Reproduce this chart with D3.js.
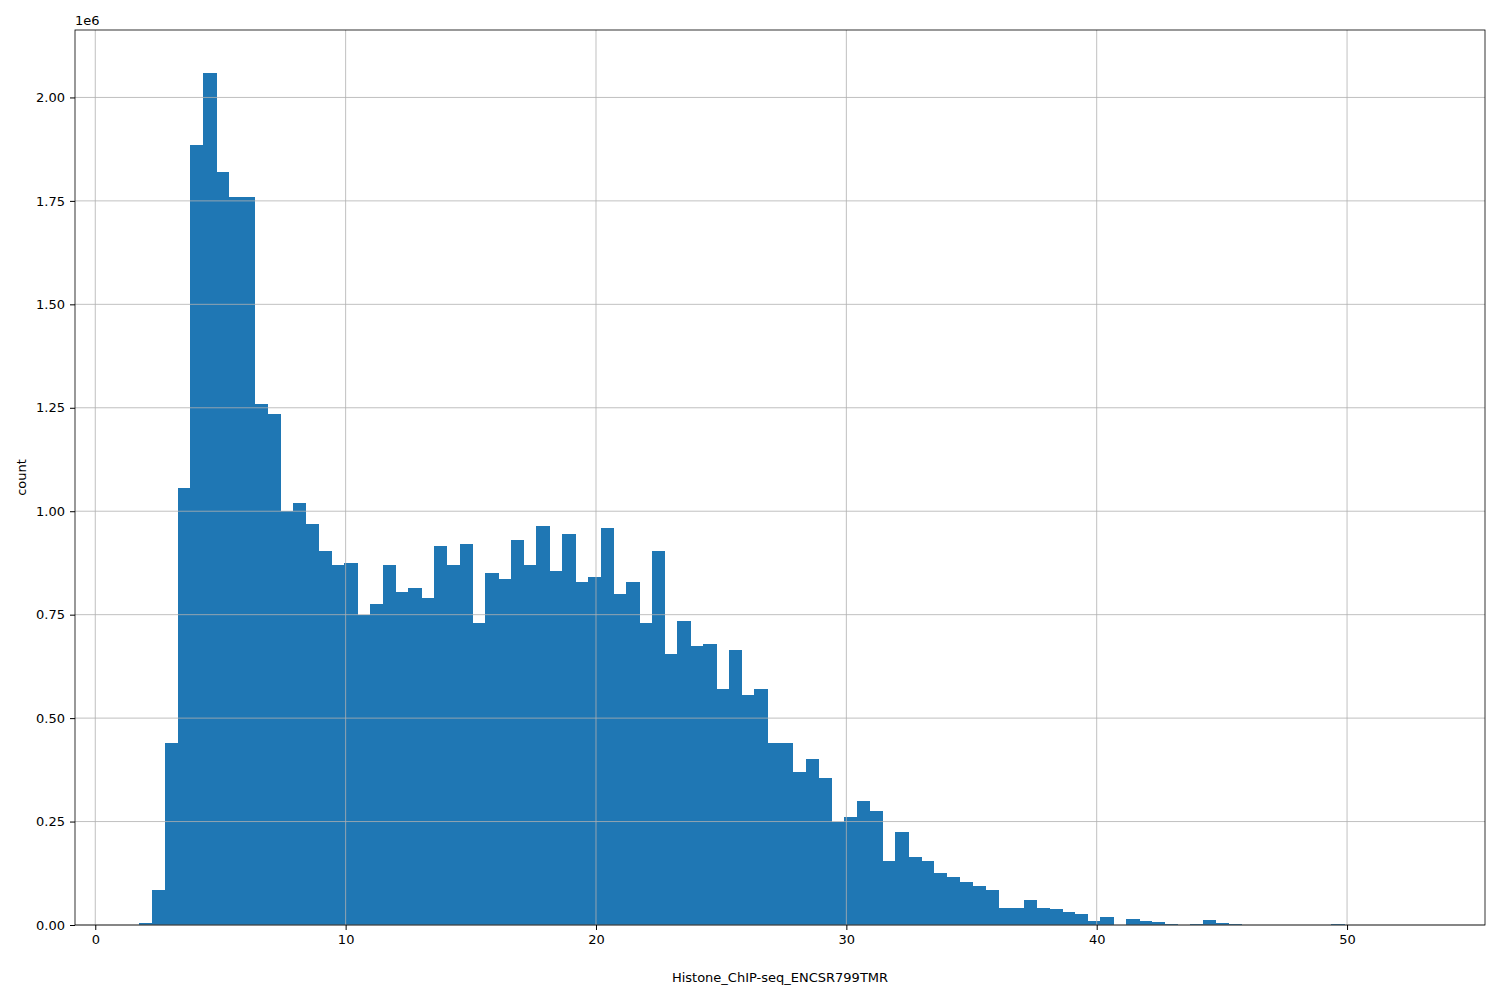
<!DOCTYPE html>
<html><head><meta charset="utf-8">
<script src="https://cdn.jsdelivr.net/npm/d3@7"></script>
<style>body{margin:0;background:#fff}text{font-family:"DejaVu Sans",sans-serif}</style>
</head><body>
<svg id="chart" width="1500" height="1000"></svg>
<script>
// histogram: 100 bins starting at binStart, width binWidth
const binStart = 1.75;
const binWidth = 0.512;
const counts = [
  0.005,0.085,0.44,1.055,1.885,2.06,1.82,1.76,1.76,1.26,
  1.235,1.0,1.02,0.97,0.905,0.87,0.875,0.75,0.775,0.87,
  0.805,0.815,0.79,0.915,0.87,0.92,0.73,0.85,0.835,0.93,
  0.87,0.965,0.855,0.945,0.83,0.84,0.96,0.80,0.83,0.73,
  0.905,0.655,0.735,0.675,0.68,0.57,0.665,0.555,0.57,0.44,
  0.44,0.37,0.40,0.355,0.25,0.26,0.30,0.275,0.155,0.225,
  0.165,0.155,0.125,0.115,0.105,0.095,0.085,0.04,0.04,0.06,
  0.042,0.038,0.032,0.027,0.01,0.02,0.0,0.015,0.01,0.007,
  0.003,0.0,0.002,0.013,0.005,0.003,0.001,0.001,0.001,0.001,
  0.001,0.0005,0.001,0.003,0.001,0.0005,0.0005,0.0005,0.0005,0.0005
].map(v => v * 1e6);
const xTicks = [0, 10, 20, 30, 40, 50];
const yTicks = [0, 0.25, 0.5, 0.75, 1.0, 1.25, 1.5, 1.75, 2.0].map(v => v * 1e6);

const svg = d3.select("#chart");
const m = {left: 75, right: 15, top: 30, bottom: 75};
const W = 1500 - m.left - m.right, H = 1000 - m.top - m.bottom;
const binEnd = binStart + binWidth * counts.length;
const pad = (binEnd - binStart) * 0.05;
const x = d3.scaleLinear().domain([binStart - pad, binEnd + pad]).range([0, W]);
const yMax = d3.max(counts) * 1.05;
const y = d3.scaleLinear().domain([0, yMax]).range([H, 0]);
const g = svg.append("g").attr("transform", `translate(${m.left},${m.top})`);

const bars = counts.map((c, i) => ({x0: binStart + i * binWidth, x1: binStart + (i + 1) * binWidth, c}));
g.selectAll("rect.bar").data(bars).join("rect")
  .attr("x", d => x(d.x0)).attr("width", d => x(d.x1) - x(d.x0) + 0.6)
  .attr("y", d => y(d.c)).attr("height", d => H - y(d.c))
  .attr("fill", "#1f77b4").attr("shape-rendering", "crispEdges");

// grid over bars (pandas hist draws grid on top)
g.append("g").selectAll("line").data(xTicks).join("line")
  .attr("x1", d => x(d)).attr("x2", d => x(d)).attr("y1", 0).attr("y2", H)
  .attr("stroke", "#b0b0b0").attr("stroke-width", 0.8);
g.append("g").selectAll("line").data(yTicks).join("line")
  .attr("y1", d => y(d)).attr("y2", d => y(d)).attr("x1", 0).attr("x2", W)
  .attr("stroke", "#b0b0b0").attr("stroke-width", 0.8);

const xa = g.append("g").attr("transform", `translate(0,${H})`)
  .call(d3.axisBottom(x).tickValues(xTicks).tickSize(5).tickPadding(5).tickFormat(d3.format("d")));
const ya = g.append("g")
  .call(d3.axisLeft(y).tickValues(yTicks).tickSize(5).tickPadding(5).tickFormat(d => (d / 1e6).toFixed(2)));
[xa, ya].forEach(a => { a.selectAll("text").attr("font-size", 13).attr("fill", "#000").style("font-family", "DejaVu Sans"); a.select(".domain").remove(); });

g.append("rect").attr("width", W).attr("height", H).attr("fill", "none").attr("stroke", "#000").attr("stroke-width", 0.8);

svg.append("text").attr("x", m.left).attr("y", 25).attr("font-size", 13).text("1e6");
svg.append("text").attr("transform", `translate(26,${m.top + H / 2}) rotate(-90)`).attr("text-anchor", "middle").attr("font-size", 13).text("count");
svg.append("text").attr("x", m.left + W / 2).attr("y", 982).attr("text-anchor", "middle").attr("font-size", 13).text("Histone_ChIP-seq_ENCSR799TMR");
</script>
</body></html>
